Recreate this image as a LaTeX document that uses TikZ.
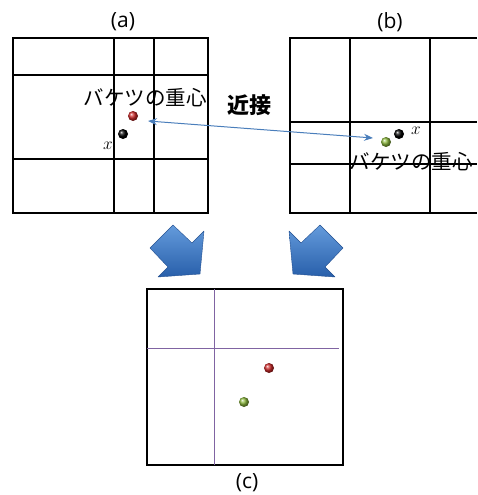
\documentclass[tikz,border=0pt]{standalone}
\usepackage{fontspec}
\setmainfont{Open Sans}
\newfontfamily\cjk{Noto Sans CJK JP}
\usetikzlibrary{arrows.meta}
\definecolor{linkblue}{RGB}{74,126,187}
\definecolor{gridpurple}{RGB}{128,100,162}
\definecolor{ballgreen}{RGB}{140,185,60}
\definecolor{ballred}{RGB}{205,40,40}
\definecolor{bigtop}{RGB}{100,155,220}
\definecolor{bigbot}{RGB}{40,95,170}
\definecolor{bigedge}{RGB}{35,80,145}
\begin{document}
\begin{tikzpicture}[x=1pt,y=-1pt,
  gridline/.style={line width=1.5pt,black},
  purpleline/.style={line width=1pt,gridpurple},
  ballnode/.style={circle,inner sep=0pt,minimum size=10pt},
  caption/.style={font=\fontsize{21}{24}\selectfont,inner sep=0pt},
  jtext/.style={font=\cjk\fontsize{20.5}{24}\selectfont,inner sep=0pt},
  xlabel/.style={font=\fontsize{19}{22}\selectfont,inner sep=0pt},
  bigarrow/.style={top color=bigtop,bottom color=bigbot,draw=bigedge,line width=0.4pt,line join=round},
  link/.style={linkblue,line width=1pt,{Stealth[length=9pt,width=7pt]}-{Stealth[length=9pt,width=7pt]}}]
\useasboundingbox (0,0) rectangle (477,495);

% captions
\node[caption] (capa) at (123,22) {(a)};
\node[caption] (capb) at (390,22) {(b)};
\node[caption] (capc) at (247,483) {(c)};

% grid (a)
\draw[gridline] (13,38) rectangle (208,213);
\draw[gridline] (114,38) -- (114,213);
\draw[gridline] (154,38) -- (154,213);
\draw[gridline] (13,75) -- (208,75);
\draw[gridline] (13,159) -- (208,159);

% grid (b)
\draw[gridline] (477,38) -- (290,38) -- (290,213) -- (477,213);
\draw[gridline] (350,38) -- (350,213);
\draw[gridline] (430,38) -- (430,213);
\draw[gridline] (290,122) -- (477,122);
\draw[gridline] (290,164) -- (477,164);

% box (c)
\draw[line width=1.2pt] (147,289) rectangle (343,465);
\draw[purpleline] (214,289) -- (214,465);
\draw[purpleline] (147,348) -- (339,348);

% texts
\node[jtext] (ja) at (145,98) {バケツの重心};
\node[jtext] (jb) at (411,162) {バケツの重心};
\node[jtext,font=\cjk\bfseries\fontsize{22}{26}\selectfont] (kinsetsu) at (249,105) {近接};

% balls (a)
\node[ballnode,ball color=ballred] (reda) at (133,116) {};
\node[ballnode,ball color=black] (xa) at (123,134) {};
\node[xlabel] (xla) at (108,146) {$x$};

% balls (b)
\node[ballnode,ball color=black] (xb) at (399,134) {};
\node[ballnode,ball color=ballgreen] (greenb) at (386,142) {};
\node[xlabel] (xlb) at (416,131) {$x$};

% balls (c)
\node[ballnode,ball color=ballred] (redc) at (269,368) {};
\node[ballnode,ball color=ballgreen] (greenc) at (244,402) {};

% link arrow
\coordinate (la) at (148,121);
\coordinate (lb) at (373,138);
\draw[link] (la) -- (lb);

% big arrows
\draw[bigarrow] (173,225) -- (192,243) -- (204,231) -- (200,274) -- (158,277) -- (168,267) -- (150,248) -- cycle;
\draw[bigarrow] (320,225) -- (301,243) -- (289,231) -- (293,274) -- (335,277) -- (325,267) -- (343,248) -- cycle;
\end{tikzpicture}
\end{document}
